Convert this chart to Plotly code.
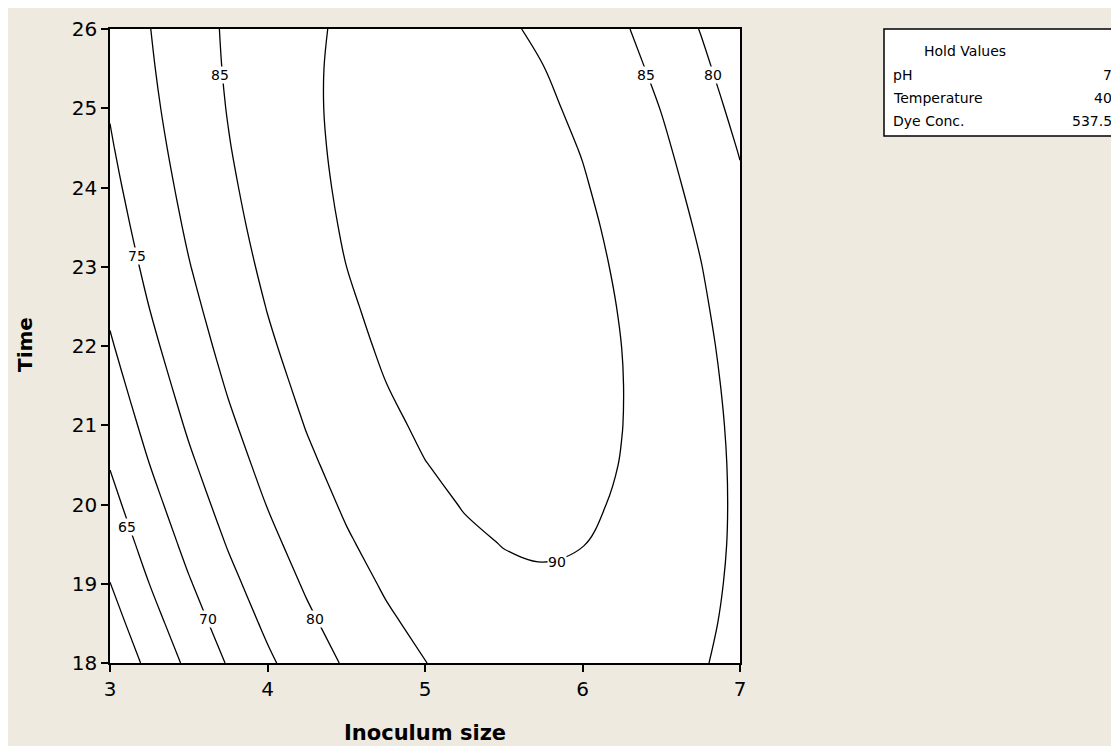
import plotly.graph_objects as go

# contour plot of response vs Inoculum size and Time (Minitab style)
inoculum = [3.0, 3.25, 3.5, 3.75, 4.0, 4.25, 4.5, 4.75, 5.0, 5.25, 5.5, 5.75, 6.0, 6.25, 6.5, 6.75, 7.0]
time = [18, 18.5, 19, 19.5, 20, 20.5, 21, 21.5, 22, 22.5, 23, 23.5, 24, 24.5, 25, 25.5, 26]

# response, one row per Time value
z_180 = [55.89, 61.18, 66.00, 70.34, 74.21, 77.60, 80.52, 82.96, 84.92, 86.42, 87.43, 87.97, 88.04, 87.63, 86.75, 85.39, 83.56]
z_185 = [57.97, 63.15, 67.86, 72.09, 75.85, 79.14, 81.94, 84.28, 86.13, 87.52, 88.43, 88.86, 88.82, 88.30, 87.31, 85.84, 83.90]
z_190 = [59.93, 65.01, 69.61, 73.73, 77.38, 80.56, 83.26, 85.48, 87.23, 88.51, 89.31, 89.63, 89.48, 88.86, 87.76, 86.18, 84.13]
z_195 = [61.80, 66.77, 71.26, 75.28, 78.82, 81.89, 84.48, 86.59, 88.24, 89.40, 90.09, 90.31, 90.05, 89.32, 88.11, 86.43, 84.27]
z_200 = [63.56, 68.41, 72.80, 76.71, 80.14, 83.10, 85.58, 87.59, 89.12, 90.18, 90.76, 90.87, 90.51, 89.66, 88.35, 86.56, 84.29]
z_205 = [65.21, 69.96, 74.23, 78.03, 81.36, 84.21, 86.58, 88.48, 89.91, 90.86, 91.33, 91.33, 90.86, 89.91, 88.48, 86.58, 84.21]
z_210 = [66.75, 71.39, 75.56, 79.25, 82.47, 85.21, 87.48, 89.27, 90.58, 91.43, 91.79, 91.68, 91.10, 90.04, 88.51, 86.50, 84.02]
z_215 = [68.18, 72.71, 76.77, 80.36, 83.46, 86.10, 88.26, 89.94, 91.15, 91.88, 92.14, 91.92, 91.23, 90.07, 88.42, 86.31, 83.72]
z_220 = [69.52, 73.94, 77.89, 81.37, 84.37, 86.89, 88.94, 90.52, 91.62, 92.24, 92.39, 92.07, 91.27, 89.99, 88.24, 86.02, 83.32]
z_225 = [70.74, 75.05, 78.90, 82.26, 85.15, 87.57, 89.51, 90.98, 91.97, 92.49, 92.53, 92.10, 91.19, 89.81, 87.95, 85.61, 82.81]
z_230 = [71.86, 76.07, 79.81, 83.06, 85.85, 88.16, 89.99, 91.35, 92.23, 92.64, 92.57, 92.03, 91.02, 89.52, 87.56, 85.12, 82.20]
z_235 = [72.87, 76.97, 80.60, 83.75, 86.43, 88.63, 90.35, 91.60, 92.38, 92.68, 92.50, 91.85, 90.73, 89.13, 87.05, 84.50, 81.48]
z_240 = [73.77, 77.76, 81.28, 84.32, 86.89, 88.98, 90.60, 91.74, 92.41, 92.60, 92.31, 91.56, 90.32, 88.62, 86.43, 83.77, 80.64]
z_245 = [74.57, 78.46, 81.87, 84.80, 87.26, 89.24, 90.75, 91.78, 92.34, 92.43, 92.03, 91.17, 89.83, 88.01, 85.72, 82.95, 79.71]
z_250 = [75.27, 79.05, 82.35, 85.17, 87.52, 89.40, 90.80, 91.72, 92.17, 92.15, 91.65, 90.67, 89.22, 87.30, 84.90, 82.02, 78.67]
z_255 = [75.85, 79.52, 82.71, 85.43, 87.67, 89.44, 90.73, 91.55, 91.89, 91.76, 91.15, 90.07, 88.51, 86.47, 83.97, 80.98, 77.53]
z_260 = [76.33, 79.89, 82.97, 85.58, 87.72, 89.37, 90.56, 91.27, 91.50, 91.26, 90.54, 89.35, 87.69, 85.54, 82.93, 79.84, 76.27]

levels = [60, 65, 70, 75, 80, 85, 90]

hold_names = ["pH", "Temperature", "Dye Conc."]
hold_values = ["7", "40", "537.5"]

FONT = "DejaVu Sans"

fig = go.Figure()
fig.add_trace(go.Contour(
    x=inoculum, y=time,
    z=[z_180, z_185, z_190, z_195, z_200, z_205, z_210, z_215, z_220,
       z_225, z_230, z_235, z_240, z_245, z_250, z_255, z_260],
    contours=dict(start=levels[0], end=levels[-1], size=levels[1] - levels[0],
                  coloring="none", showlabels=False),
    line=dict(color="black", width=1.3, smoothing=1),
    showscale=False, hoverinfo="skip",
))

# contour labels (placed where the original has them)
label_spots = [("85", 3.70, 25.42), ("75", 3.17, 23.13), ("65", 3.11, 19.71),
               ("70", 3.62, 18.56), ("80", 4.30, 18.56), ("90", 5.84, 19.28),
               ("85", 6.40, 25.42), ("80", 6.83, 25.42)]
for txt, lx, ly in label_spots:
    fig.add_annotation(x=lx, y=ly, text=txt, showarrow=False,
                       font=dict(family=FONT, size=14, color="black"),
                       bgcolor="white", borderpad=0)

# page positions -> paper coords (page has an 8px body margin)
L, T, W, H = 102, 21, 630, 634
px = lambda v: (v - 8 - L) / W
py = lambda v: (T + 8 + H - v) / H

# axis titles
fig.add_annotation(xref="paper", yref="paper", x=px(425), y=py(733), text="<b>Inoculum size</b>",
                   xanchor="center", yanchor="middle", showarrow=False,
                   font=dict(family=FONT, size=21, color="black"))
fig.add_annotation(xref="paper", yref="paper", x=px(25), y=py(345), text="<b>Time</b>",
                   textangle=-90, xanchor="center", yanchor="middle", showarrow=False,
                   font=dict(family=FONT, size=20, color="black"))

# hold values box
fig.add_shape(type="rect", xref="paper", yref="paper",
              x0=px(884), x1=px(1140), y0=py(136), y1=py(29),
              line=dict(color="black", width=1.5), fillcolor="white")
fig.add_annotation(xref="paper", yref="paper", x=px(965), y=py(51), text="Hold Values",
                   xanchor="center", yanchor="middle", showarrow=False,
                   font=dict(family=FONT, size=14, color="black"))
for i, (name, val) in enumerate(zip(hold_names, hold_values)):
    yy = py(75 + 23 * i)
    fig.add_annotation(xref="paper", yref="paper", x=px(891), y=yy, text=name,
                       xanchor="left", yanchor="middle", showarrow=False,
                       font=dict(family=FONT, size=14, color="black"))
    fig.add_annotation(xref="paper", yref="paper", x=px(1114), y=yy, text=val,
                       xanchor="right", yanchor="middle", showarrow=False,
                       font=dict(family=FONT, size=14, color="black"))

axis_common = dict(showgrid=False, zeroline=False, ticks="outside", ticklen=7, tickwidth=1.5,
                   tickcolor="black", showline=True, linecolor="black", linewidth=1.5,
                   mirror=True, automargin=False,
                   tickfont=dict(family=FONT, size=20, color="black"))
fig.update_layout(
    width=1111, height=738,
    margin=dict(l=L, r=1111 - L - W, t=T, b=738 - T - H),
    paper_bgcolor="#EEEAE0", plot_bgcolor="white",
    showlegend=False,
    xaxis=dict(range=[3, 7], tickvals=[3, 4, 5, 6, 7], **axis_common),
    yaxis=dict(range=[18, 26], tickvals=[18, 19, 20, 21, 22, 23, 24, 25, 26], **axis_common),
)

fig.write_html("out.html")
